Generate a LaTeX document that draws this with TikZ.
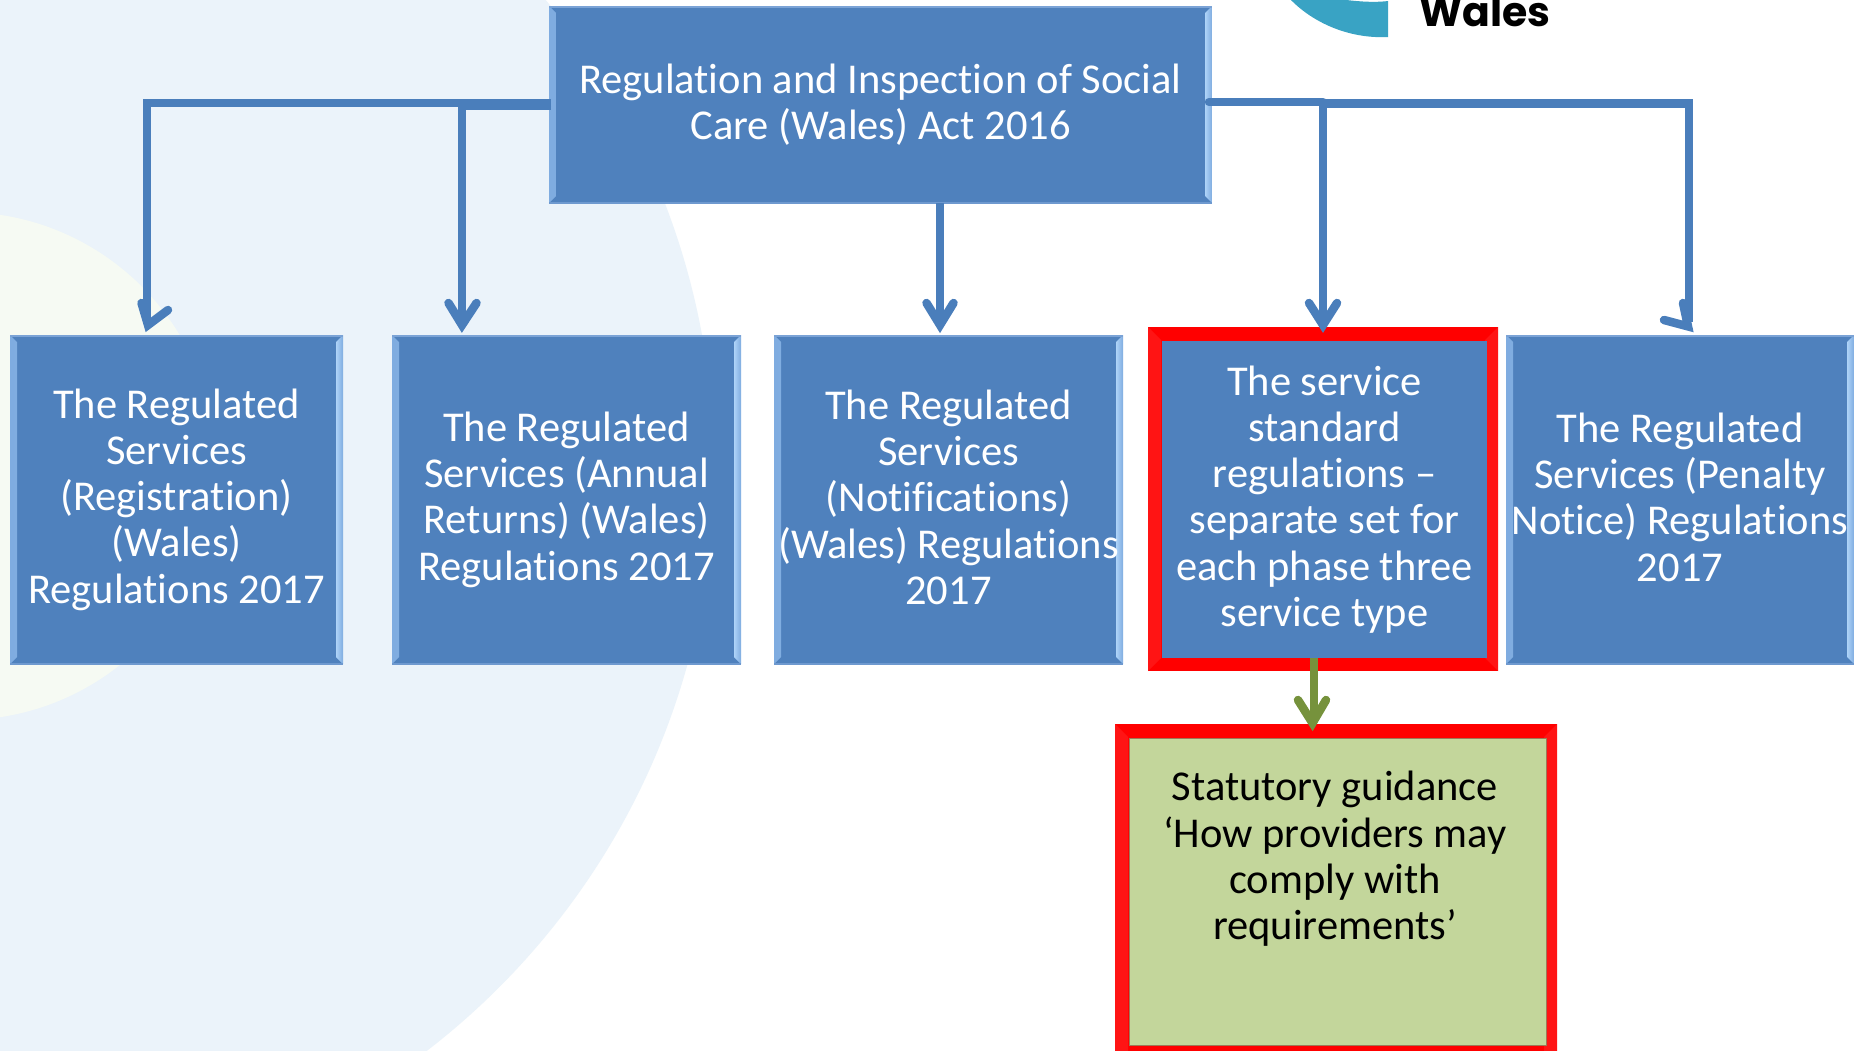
\documentclass[tikz,border=0pt]{standalone}
\usepackage{fontspec}
\setmainfont{Carlito}[Ligatures=NoCommon]
\newfontfamily\logofont{Poppins}
\usetikzlibrary{calc}
\definecolor{boxblue}{HTML}{4F81BD}
\definecolor{lineblue}{HTML}{4A7EBB}
\definecolor{bevelA}{HTML}{7FACE0}
\definecolor{bevelB}{HTML}{AED3F8}
\definecolor{edgeblue}{HTML}{7BA3D6}
\definecolor{leaf}{HTML}{C3D69B}
\definecolor{olive}{HTML}{76923C}
\definecolor{paleblue}{HTML}{EBF3FA}
\definecolor{palegreen}{HTML}{F6FAF3}
\definecolor{logoteal}{HTML}{39A3C4}
\definecolor{redlight}{HTML}{FF1414}
\newcommand{\ppb}{path picture bounding box}
\tikzset{
  boxtext/.style={font=\fontsize{42.5}{46.3}\selectfont,align=center,inner sep=0pt,outer sep=0pt,text=white},
  plainbox/.style={boxtext,rectangle,fill=boxblue},
  bluebox/.style={plainbox,bevelled},
  bevelled/.style={path picture={
    \shade[left color=bevelA,right color=bevelB]
      (\ppb.north west) -- ([xshift=7pt,yshift=-7pt]\ppb.north west) -- ([xshift=7pt,yshift=7pt]\ppb.south west) -- (\ppb.south west) -- cycle;
    \shade[left color=bevelB,right color=bevelA]
      (\ppb.north east) -- ([xshift=-7pt,yshift=-7pt]\ppb.north east) -- ([xshift=-7pt,yshift=7pt]\ppb.south east) -- (\ppb.south east) -- cycle;
    \draw[edgeblue,line width=3pt] (\ppb.north west) -- (\ppb.north east);
    \draw[edgeblue!70!boxblue,line width=3pt] (\ppb.south west) -- (\ppb.south east);
  }},
  redframe/.style={rectangle,fill=red,inner sep=0pt,outer sep=0pt,path picture={
    \fill[redlight] (\ppb.north west) -- ([xshift=13pt,yshift=-13pt]\ppb.north west) -- ([xshift=13pt,yshift=13pt]\ppb.south west) -- (\ppb.south west) -- cycle;
    \fill[redlight] (\ppb.north east) -- ([xshift=-13pt,yshift=-13pt]\ppb.north east) -- ([xshift=-13pt,yshift=13pt]\ppb.south east) -- (\ppb.south east) -- cycle;
  }},
  leafbox/.style={rectangle,fill=leaf,draw=leaf!75!red!75!black,line width=1pt,inner sep=0pt,outer sep=0pt},
  leaftext/.style={boxtext,text=black},
  conn/.style={draw=lineblue,line width=8.5pt,line join=miter},
  head/.style={draw=lineblue,line width=8.5pt,line cap=round,line join=miter,miter limit=10},
  greenconn/.style={draw=olive,line width=8.5pt},
  greenhead/.style={draw=olive,line width=8.5pt,line cap=round,line join=miter,miter limit=10},
}
\begin{document}
\begin{tikzpicture}[x=1pt,y=-1pt]
\clip (0,0) rectangle (1859,1050);
\fill[white] (0,0) rectangle (1859,1050);
% background artwork
\fill[paleblue] (-21,468) circle (735);
\fill[palegreen] (-38,466) circle (254);
% logo fragment
\fill[logoteal] (1290,-1) .. controls (1312,22) and (1348,39) .. (1388,37) -- (1388,1) .. controls (1372,3) and (1354,1) .. (1338,-1) -- cycle;
\node[anchor=base west,inner sep=0pt,font=\logofont\bfseries\fontsize{41}{41}\selectfont] (wales) at (1419,26) {Wales};
% boxes
\node[bluebox,minimum width=663pt,minimum height=197pt] (top) at (880.5,104.5) {Regulation and Inspection of Social\\Care (Wales) Act 2016};
\node[bluebox,minimum width=333pt,minimum height=329pt] (b1) at (176.5,499.5) {The Regulated\\Services\\(Registration)\\(Wales)\\Regulations 2017};
\node[bluebox,minimum width=349pt,minimum height=329pt] (b2) at (566.5,499.5) {The Regulated\\Services (Annual\\Returns) (Wales)\\Regulations 2017};
\node[bluebox,minimum width=349pt,minimum height=329pt] (b3) at (948.5,499.5) {The Regulated\\Services\\(Notifications)\\(Wales) Regulations\\2017\rule[-5pt]{0pt}{5pt}};
\node[redframe,minimum width=350pt,minimum height=344pt] (f4) at (1323,499) {};
\node[plainbox,minimum width=325pt,minimum height=317pt] (b4) at (1324.5,499.5) {The service\\standard\\regulations –\\separate set for\\each phase three\\service type};
\node[bluebox,minimum width=348pt,minimum height=329pt] (b5) at (1680,499.5) {The Regulated\\Services (Penalty\\Notice) Regulations\\2017\rule[-5pt]{0pt}{5pt}};
\node[redframe,minimum width=442pt,minimum height=340pt] (f6) at (1336,894) {};
\node[leafbox,minimum width=417pt,minimum height=307pt] (b6) at (1337.5,891.5) {};
\node[leaftext] (t6) at (1335,859) {Statutory guidance\\‘How providers may\\comply with\\requirements’};
% connector geometry
\coordinate (tipb) at (462,325);
\coordinate (tipc) at (940,325);
\coordinate (tipd) at (1323,325);
\coordinate (tipe) at (1688,326.4);
\coordinate (tipf) at (1312.5,723);
\coordinate (stemf) at (1314,722);
% left branches
\draw[conn] ($(top.west)+(2,-1.5)$) -- (147,103) -- (147,322);
\draw[conn] ($(top.west)+(2,1)$) -- (tipb |- 0,105.5) -- (tipb);
\draw[head] (141.5,303) -- (148,325) -- (168,310);
\draw[head] (448.5,303) -- (tipb) -- (476.5,303);
% centre branch
\draw[conn] (tipc |- top.south) -- (tipc);
\draw[head] (926.5,303) -- (tipc) -- (953.5,303);
% right branches
\draw[conn,line cap=round] ($(top.east)+(-3,-2.5)$) -- (tipd |- 0,102);
\draw[conn] (tipd |- 0,103.5) -- (tipd);
\draw[conn] (tipd |- 0,103.5) -- (1689,103.5) -- (1689,322);
\draw[head] (1309,303) -- (tipd) -- (1337,303);
\draw[head] (1683,303) -- (tipe) -- (1664,320);
% green arrow
\draw[greenconn] (stemf |- b4.south) -- (stemf);
\draw[greenhead] (1298,700) -- (tipf) -- (1326,700);
\end{tikzpicture}
\end{document}
